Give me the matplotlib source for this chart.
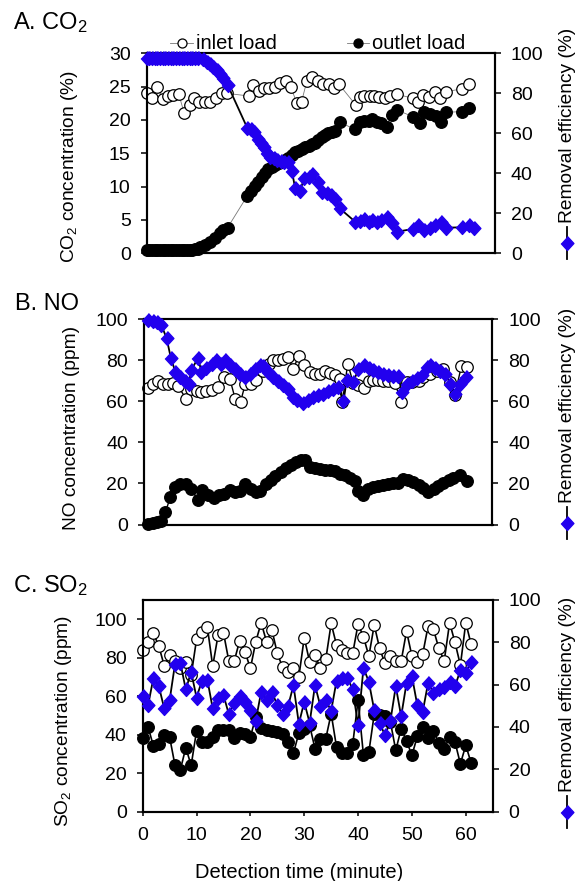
import matplotlib
matplotlib.use('Agg')
import matplotlib.pyplot as plt
from matplotlib.lines import Line2D

plt.rcParams['font.family'] = ['Liberation Sans', 'DejaVu Sans']
plt.rcParams['mathtext.default'] = 'regular'

# ---------------- data ----------------
# Panel A: CO2
co2_in_t = [0, 0.9, 2.0, 3.0, 4.0, 5.0, 6.0, 7.0, 8.0, 8.9, 9.8, 10.9, 11.9, 12.9, 14.0, 14.9,
            19.0, 19.9, 20.9, 21.9, 22.9, 23.9, 24.9, 26.0, 26.9, 28.0, 28.9, 29.9, 30.9, 31.9, 32.9, 34.0, 34.9, 35.9,
            39.0, 39.8, 40.6, 41.6, 42.5, 43.4, 44.5, 45.4, 46.7,
            49.7, 50.7, 51.6, 52.7, 53.8, 54.8, 55.8, 58.8, 60.1]
co2_in = [24.0, 23.35, 24.95, 23.15, 23.65, 23.75, 23.85, 21.0, 22.25, 23.25, 22.75, 22.65, 22.65, 23.25, 24.0, 24.0,
          23.6, 25.25, 24.35, 24.75, 24.85, 25.0, 25.5, 25.85, 25.0, 22.5, 22.75, 25.85, 26.5, 25.85, 25.35, 25.35, 24.85, 25.35,
          22.25, 23.5, 23.65, 23.65, 23.6, 23.5, 23.25, 23.65, 23.85,
          23.25, 22.65, 23.75, 23.4, 24.25, 23.35, 24.25, 24.65, 25.35]

co2_out_t = [0, 0.5, 1, 1.5, 2, 2.5, 3, 3.5, 4, 4.5, 5, 5.5, 6, 6.5, 7, 7.5, 8, 8.5, 9, 9.5,
             10, 10.9, 11.8, 12.8, 13.7, 14.3, 15.1,
             18.8, 19.5, 20.2, 20.8, 21.5, 22.1, 22.7, 23.3, 24, 24.6, 25.2, 25.8, 26.4, 27.1, 27.7, 28.3, 28.9,
             29.6, 30.2, 30.8, 31.4, 32, 32.7, 33.3, 33.9, 34.5, 35.2, 36,
             38.9, 39.8, 40.6, 41.4, 42.1, 42.9, 43.7, 44.8, 45.7, 46.8,
             49.7, 51, 51.8, 52.9, 54, 55, 55.9, 58.8, 60.1]
co2_out = [0.5, 0.5, 0.45, 0.5, 0.5, 0.5, 0.45, 0.5, 0.5, 0.5, 0.5, 0.45, 0.5, 0.5, 0.5, 0.5, 0.5, 0.55, 0.6, 0.7,
           1.0, 1.25, 1.75, 2.25, 3.0, 3.5, 3.85,
           8.65, 9.35, 10.1, 10.75, 11.5, 12.1, 12.65, 13.0, 13.25, 13.5, 13.75, 14.0, 14.35, 14.75, 15.15, 15.4, 15.65,
           16.0, 16.15, 16.35, 16.6, 17.0, 17.5, 17.75, 18.0, 18.15, 18.35, 19.65,
           18.6, 19.65, 19.85, 19.85, 20.15, 19.65, 19.5, 19.0, 20.75, 21.45,
           20.5, 19.5, 21.25, 20.85, 20.6, 19.65, 21.15, 21.25, 21.75]

co2_eff_t = [0, 0.5, 1, 1.5, 2, 2.5, 3, 3.5, 4, 4.5, 5, 5.5, 6, 6.5, 7, 7.5, 8, 8.5, 9, 9.5,
             10.6, 11.2, 11.8, 12.4, 13.1, 13.7, 14.3, 15.1,
             18.8, 19.4, 20.0, 20.7, 21.3, 21.9, 22.5, 23.1, 23.8, 24.4, 25.0, 25.6, 26.3, 27.1, 27.7, 28.6, 29.4,
             30.2, 30.9, 31.9, 32.7, 33.6, 34.4, 35.2, 36.0,
             38.9, 39.8, 40.6, 41.4, 42.1, 42.9, 43.7, 44.8, 45.7, 46.8,
             49.7, 50.7, 51.8, 52.8, 53.8, 55.0, 55.9, 58.8, 60.1, 61.0]
co2_eff = [97.8, 97.8, 97.8, 97.8, 97.8, 97.8, 97.8, 97.8, 97.8, 97.8, 97.8, 97.8, 97.8, 97.8, 97.8, 97.8, 97.8, 97.8, 97.8, 97.8,
           97.2, 95.8, 94.5, 93.2, 91.7, 89.5, 87.5, 84.2,
           62.5, 62.0, 60.8, 57.0, 55.0, 53.3, 50.0, 48.3, 47.5, 46.7, 46.2, 45.8, 45.5, 41.2, 32.5, 31.2, 37.5,
           38.3, 39.5, 35.5, 30.8, 30.0, 29.2, 27.2, 22.5,
           15.8, 16.2, 17.2, 15.8, 16.7, 15.8, 16.7, 18.0, 15.0, 10.8,
           12.2, 14.2, 11.7, 12.8, 14.2, 15.8, 12.8, 13.0, 14.2, 12.5]

# Panel B: NO
no_in_t = [0.75, 1.7, 2.6, 3.6, 4.5, 5.4, 6.35, 7.9, 8.8, 9.8, 10.7, 11.6, 12.6, 13.8, 14.9, 16.0, 17.0, 18.0, 18.9, 19.9,
           20.8, 22.2, 23.3, 24.1, 25.0, 25.9, 26.9, 27.8, 28.9, 29.9, 30.9, 31.9, 32.8, 33.7, 34.7, 35.6, 36.6, 37.0, 38.0, 39.0,
           40.0, 41.0, 41.9, 42.8, 43.7, 44.6, 45.6, 46.8, 48.0, 49.0, 49.9, 51.2, 52.1, 53.4, 54.6, 55.8, 57.1, 58.0, 59.2, 60.2]
no_in = [66.5, 68.6, 69.8, 68.6, 68.6, 69.1, 67.5, 61.0, 66.2, 64.9, 64.6, 64.9, 65.4, 67.0, 71.9, 71.1, 61.3, 59.7, 68.6, 68.6,
         70.2, 75.0, 78.4, 80.0, 80.0, 80.8, 81.6, 75.9, 82.1, 77.6, 74.3, 73.5, 73.5, 74.6, 74.0, 73.0, 71.1, 59.7, 78.4, 69.1,
         67.8, 66.5, 69.8, 70.2, 70.2, 69.8, 69.8, 68.9, 59.7, 69.4, 69.4, 69.8, 71.9, 73.5, 74.6, 75.6, 69.4, 63.3, 77.2, 76.6]

no_out_t = [0.75, 1.7, 2.5, 3.2, 4.0, 4.9, 5.7, 6.8, 7.9, 8.8, 10.0, 10.8, 12.0, 13.1, 14.0, 14.9, 16.0, 17.0, 17.9, 18.9,
            19.9, 20.8, 21.7, 22.7, 23.6, 24.5, 25.5, 26.5, 27.4, 28.3, 29.3, 30.1, 30.9, 31.9, 32.8, 33.7, 34.7, 35.6, 36.6, 37.5,
            38.4, 39.4, 40.0, 40.9, 41.8, 42.8, 43.7, 44.6, 45.6, 46.5, 47.4, 48.4, 49.3, 50.2, 51.2, 52.1, 53.0, 54.0, 54.9, 55.8,
            56.8, 57.7, 58.9, 60.2]
no_out = [0.3, 0.8, 1.1, 1.6, 6.0, 13.3, 18.2, 19.5, 19.5, 17.4, 12.0, 16.6, 14.5, 12.8, 14.5, 15.0, 16.6, 15.8, 16.1, 19.5,
          17.4, 15.8, 16.3, 19.5, 21.5, 23.4, 25.5, 27.5, 29.1, 30.7, 31.5, 31.2, 28.0, 27.5, 27.2, 26.8, 26.7, 25.9, 24.7, 23.9,
          22.8, 21.0, 16.3, 14.5, 17.4, 18.2, 18.7, 19.3, 19.8, 20.3, 20.3, 22.0, 21.5, 20.7, 19.3, 17.7, 15.8, 17.4, 19.0, 20.3,
          21.5, 22.6, 23.9, 21.1]

no_eff_t = [0.75, 1.7, 2.5, 3.2, 4.2, 5.0, 5.85, 6.7, 7.6, 8.35, 8.8, 10.1, 10.7, 11.6, 12.6, 13.5, 14.4, 15.2, 16.0, 17.0,
            17.9, 18.8, 19.7, 20.7, 21.6, 22.2, 23.2, 24.1, 25.0, 26.0, 26.9, 27.7, 28.6, 29.7, 30.6, 31.6, 32.5, 33.4, 34.4, 35.3,
            36.2, 37.2, 37.8, 39.0, 40.0, 41.0, 41.9, 42.8, 43.7, 44.6, 45.6, 46.5, 47.4, 48.1, 49.0, 49.9, 50.9, 51.8, 52.7, 53.4,
            54.3, 55.2, 56.2, 57.1, 58.0, 59.0, 60.1]
no_eff = [99.5, 99.0, 98.7, 97.4, 90.9, 81.3, 74.3, 71.9, 69.8, 68.6, 75.1, 81.3, 74.3, 76.3, 78.4, 80.0, 78.4, 80.0, 77.9, 75.6,
          73.5, 71.9, 73.5, 75.9, 77.9, 77.2, 74.3, 71.9, 69.8, 67.8, 65.9, 62.1, 60.9, 59.3, 60.9, 62.1, 63.3, 63.7, 64.9, 65.9,
          67.0, 60.0, 70.2, 69.4, 75.6, 77.9, 76.3, 75.1, 74.3, 73.5, 72.7, 72.4, 72.4, 64.6, 68.6, 69.8, 71.4, 73.0, 76.7, 77.6,
          76.3, 74.6, 73.5, 68.6, 63.7, 68.3, 71.9]

# Panel C: SO2 (one reading per minute)
so2_t = list(range(62))
so2_in = [83.9, 88.3, 92.6, 86.0, 75.8, 81.3, 78.4, 74.4, 77.8, 70.8,
          89.5, 93.5, 96.1, 75.6, 91.7, 93.0, 78.2, 78.2, 88.8, 83.1,
          74.4, 88.3, 98.2, 88.3, 94.4, 82.2, 74.9, 72.6, 74.4, 70.0,
          90.4, 77.8, 81.3, 74.4, 79.1, 97.8, 86.5, 83.9, 82.5, 82.2,
          97.5, 90.9, 80.8, 97.0, 84.8, 77.0, 80.8, 78.2, 78.2, 93.8,
          80.8, 77.5, 81.8, 96.4, 94.7, 84.8, 78.4, 98.2, 87.9, 76.1,
          98.2, 86.9]
so2_out = [38.4, 44.0, 33.9, 34.9, 39.6, 38.7, 24.0, 21.7, 33.2, 24.0,
           41.9, 36.1, 36.1, 38.7, 42.6, 42.6, 42.6, 38.4, 40.8, 40.5,
           38.7, 49.2, 43.4, 42.2, 41.7, 41.4, 40.1, 36.1, 30.4, 40.8,
           43.1, 44.8, 32.7, 37.9, 37.9, 50.9, 33.5, 30.4, 30.4, 34.9,
           57.9, 29.2, 30.9, 50.6, 50.0, 49.5, 46.6, 31.8, 43.1, 36.7,
           29.2, 39.1, 44.0, 38.4, 41.7, 35.6, 32.7, 38.7, 36.1, 24.8,
           34.4, 25.2]
so2_eff = [54.5, 50.2, 63.3, 59.2, 48.7, 52.6, 69.7, 70.3, 57.7, 66.0,
           53.9, 61.8, 62.4, 48.7, 53.9, 55.0, 46.0, 51.3, 54.5, 51.8,
           48.2, 43.0, 56.6, 52.9, 56.6, 50.2, 46.0, 49.8, 59.7, 41.5,
           51.8, 41.9, 59.7, 49.8, 52.6, 47.6, 61.8, 63.3, 63.3, 57.7,
           40.8, 67.9, 61.3, 47.9, 41.9, 36.0, 42.8, 59.2, 45.0, 60.8,
           64.0, 50.2, 47.1, 60.8, 56.1, 58.1, 58.9, 61.3, 59.2, 66.8,
           65.6, 70.8]

x_ticks = [0, 10, 20, 30, 40, 50, 60]
right_ticks = [0, 20, 40, 60, 80, 100]

# ---------------- styling ----------------
W, H = 579, 881
BLUE = '#2200EE'
DIAMOND = [(0, 1), (0.92, 0), (0, -1), (-0.92, 0)]
TICK_FS = 14
LABEL_FS = 13.8
CIRC_MS = 8.3
DIA_MS = 10.0

fig = plt.figure(figsize=(W / 100, H / 100), dpi=100)


def px_axes(left, top, right, bottom):
    return fig.add_axes([left / W, 1 - bottom / H, (right - left) / W, (bottom - top) / H])


def style(ax, show_x):
    for s in ax.spines.values():
        s.set_linewidth(1.5)
    ax.tick_params(axis='y', direction='out', length=4.5, width=1.1, labelsize=TICK_FS, pad=7)
    if show_x:
        ax.tick_params(axis='x', direction='out', length=3, width=1.1, labelsize=TICK_FS, pad=8)
    else:
        ax.tick_params(axis='x', bottom=False, labelbottom=False)


def panel(box, in_t, in_v, out_t, out_v, eff_t, eff_v, ylim, yticks, show_x, conc_line):
    ax = px_axes(*box)
    ax.plot(in_t, in_v, marker='o', ms=CIRC_MS, mfc='white', mec='black', mew=0.9,
            color=conc_line[0], lw=conc_line[1], clip_on=False, zorder=3)
    ax.plot(out_t, out_v, marker='o', ms=CIRC_MS, mfc='black', mec='black',
            color=conc_line[0], lw=conc_line[1], clip_on=False, zorder=3)
    ax.set_xlim(0, 65)
    ax.set_ylim(*ylim)
    ax.set_yticks(yticks)
    style(ax, show_x)
    if show_x:
        ax.set_xticks(x_ticks)
    ax2 = ax.twinx()
    ax2.plot(eff_t, eff_v, marker=DIAMOND, ms=DIA_MS, mfc=BLUE, mec=BLUE, color='black',
             lw=1.3, clip_on=False, zorder=4)
    ax2.set_ylim(0, 100)
    ax2.set_yticks(right_ticks)
    ax2.set_xlim(0, 65)
    style(ax2, show_x)
    ax2.tick_params(axis='x', bottom=False, labelbottom=False)
    return ax, ax2


# Panel A
axA, axA2 = panel((146.7, 53.3, 495, 253.3), co2_in_t, co2_in, co2_out_t, co2_out, co2_eff_t, co2_eff,
                  (0, 30), [0, 5, 10, 15, 20, 25, 30], False, ('#777777', 0.6))
# Panel B
axB, axB2 = panel((144, 319.3, 492.5, 524.5), no_in_t, no_in, no_out_t, no_out, no_eff_t, no_eff,
                  (0, 100), [0, 20, 40, 60, 80, 100], False, ('black', 1.0))
# Panel C
axC, axC2 = panel((142.7, 600, 492.7, 811.5), so2_t, so2_in, so2_t, so2_out, so2_t, so2_eff,
                  (0, 110), [0, 20, 40, 60, 80, 100], True, ('black', 1.2))


def ftext(x, y, s, **kw):
    fig.text(x / W, 1 - y / H, s, **kw)


# Panel titles
ftext(12.7, 29.3, 'A. CO$_2$', fontsize=17, va='baseline', ha='left')
ftext(14.8, 310, 'B. NO', fontsize=17, va='baseline', ha='left')
ftext(12.9, 592.3, 'C. SO$_2$', fontsize=17, va='baseline', ha='left')

# Left y labels
ftext(70, 166.7, 'CO$_2$ concentration (%)', fontsize=LABEL_FS, rotation=90, ha='center', va='center')
ftext(71.7, 428.3, 'NO concentration (ppm)', fontsize=LABEL_FS, rotation=90, ha='center', va='center')
ftext(63, 720.8, 'SO$_2$ concentration (ppm)', fontsize=LABEL_FS, rotation=90, ha='center', va='center')

# X label
ftext(298.9, 878.3, 'Detection time (minute)', fontsize=14.5, ha='center', va='baseline')

# Right-side rotated legend for removal efficiency
for my in (242.7, 523.3, 811.7):
    fig.add_artist(Line2D([567 / W, 567 / W], [1 - (my - 16) / H, 1 - (my + 16) / H],
                          color='black', lw=1.3, transform=fig.transFigure))
    fig.add_artist(Line2D([567 / W], [1 - my / H], marker=DIAMOND, ms=DIA_MS, mfc=BLUE, mec=BLUE,
                          lw=0, transform=fig.transFigure))
    ftext(567, my - 20, 'Removal efficiency (%)', fontsize=LABEL_FS, rotation=90, ha='center', va='bottom')

# Top legend of panel A
for (x0, x1, face, label) in ((170, 193, 'white', 'inlet load'), (347, 369, 'black', 'outlet load')):
    fig.add_artist(Line2D([x0 / W, x1 / W], [1 - 42.7 / H, 1 - 42.7 / H], color='#777777', lw=0.6,
                          transform=fig.transFigure))
    fig.add_artist(Line2D([(x0 + x1) / 2 / W], [1 - 42.7 / H], marker='o', ms=6.5, mfc=face, mec='black',
                          mew=0.9, lw=0, transform=fig.transFigure))
    ftext(x1 + 3.5, 49.3, label, fontsize=14.5, ha='left', va='baseline')

fig.savefig('out.png', dpi=100)
